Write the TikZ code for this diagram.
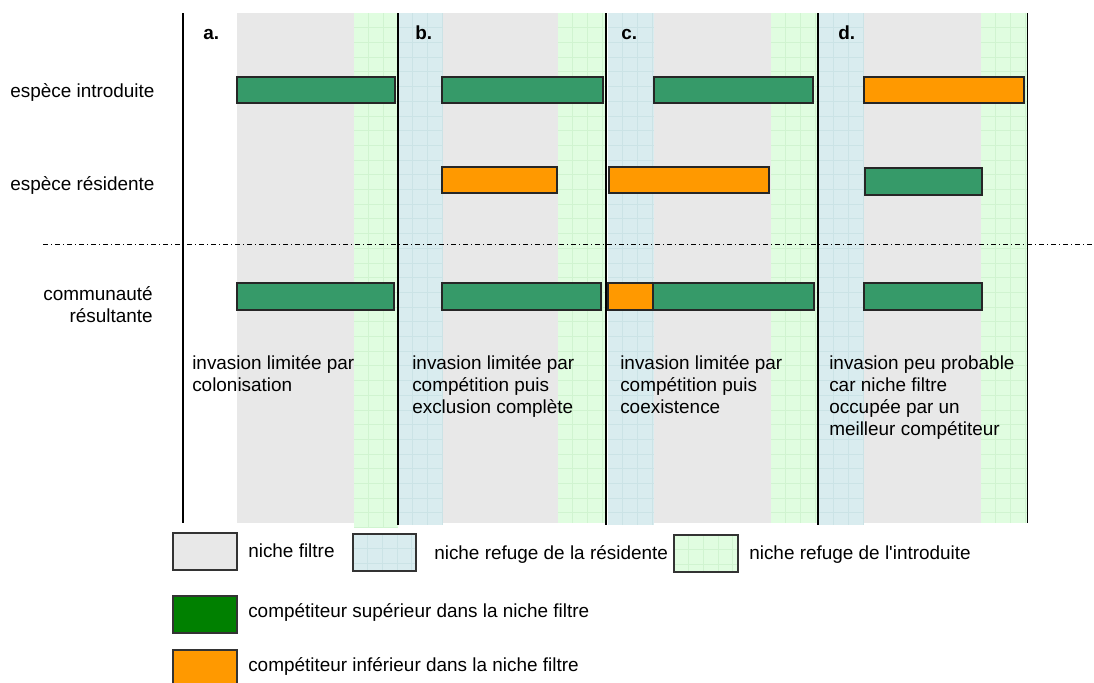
\documentclass[tikz,border=0pt]{standalone}
\usepackage{fontspec}
\setmainfont{Liberation Sans}[Ligatures=TeXOff]
\definecolor{fgray}{HTML}{E8E8E8}
\definecolor{resfill}{HTML}{D9ECEF}
\definecolor{resgrid}{HTML}{CBE3E6}
\definecolor{intfill}{HTML}{E0FDE0}
\definecolor{intgrid}{HTML}{D0F4D0}
\definecolor{bargreen}{RGB}{54,154,105}
\definecolor{barorange}{HTML}{FF9900}
\definecolor{leggreen}{HTML}{008000}
\newcommand\gridbox[6]{%
  \fill[#5] (#1,#2) rectangle (#3,#4);
  \begin{scope}
    \clip (#1,#2) rectangle (#3,#4);
    \foreach \k in {1,...,5} \draw[#6,line width=0.55pt] ({#1+\k*14.7},#2) -- ({#1+\k*14.7},#4);
    \foreach \k in {1,...,35} \draw[#6,line width=0.55pt] (#1,{#2+\k*14.7}) -- (#3,{#2+\k*14.7});
  \end{scope}}
\begin{document}
\begin{tikzpicture}[x=0.75pt,y=-0.75pt,
  txt/.style={font=\fontsize{14.2pt}{16.3pt}\selectfont,inner sep=0pt,align=left},
  lbl/.style={font=\fontsize{14.2pt}{16.3pt}\selectfont\bfseries,inner sep=0pt},
  bar/.style={draw=black!85,line width=1pt},
  frame/.style={draw=black,line width=1.1pt},
  legbox/.style={draw=black!80,line width=1.1pt}]
\useasboundingbox (0,0) rectangle (1094,682);
% filter niches
\fill[fgray] (237,13) rectangle (354,523);
\fill[fgray] (443,13) rectangle (558,523);
\fill[fgray] (654,13) rectangle (771,523);
\fill[fgray] (864,13) rectangle (981,523);
% refuges of resident
\gridbox{398}{13}{443}{525}{resfill}{resgrid}
\gridbox{608}{13}{654}{525}{resfill}{resgrid}
\gridbox{819}{13}{864}{525}{resfill}{resgrid}
% refuges of introduced
\gridbox{354}{13}{398}{528}{intfill}{intgrid}
\gridbox{558}{13}{606}{523}{intfill}{intgrid}
\gridbox{771}{13}{818}{523}{intfill}{intgrid}
\gridbox{981}{13}{1027}{523}{intfill}{intgrid}
% panel lines
\draw[frame] (183,13) -- (183,523);
\draw[frame] (398,13) -- (398,525);
\draw[frame] (606,13) -- (606,525);
\draw[frame] (818,13) -- (818,525);
\draw[frame] (1027.5,13) -- (1027.5,523);
% separator
\draw[black,line width=0.75pt,dash pattern=on 4pt off 2pt on 1pt off 2pt] (43,244) -- (1092,244);
% row 1: introduced species
\draw[bar,fill=bargreen] (237,77) rectangle (395,103);
\draw[bar,fill=bargreen] (442,77) rectangle (603,103);
\draw[bar,fill=bargreen] (654,77) rectangle (813,103);
\draw[bar,fill=barorange] (864,77) rectangle (1024,103);
% row 2: resident species
\draw[bar,fill=barorange] (442,167) rectangle (557,193);
\draw[bar,fill=barorange] (609,167) rectangle (769,193);
\draw[bar,fill=bargreen] (865,168) rectangle (982,195);
% row 3: resulting community
\draw[bar,fill=bargreen] (237,283) rectangle (394,310);
\draw[bar,fill=bargreen] (442,283) rectangle (601,310);
\draw[bar,fill=barorange] (608,283) rectangle (653,310);
\draw[bar,fill=bargreen] (653,283) rectangle (814,310);
\draw[bar,fill=bargreen] (864,283) rectangle (982,310);
% panel letters
\node[lbl,anchor=base west] (la) at (203,39) {a.};
\node[lbl,anchor=base west] (lb) at (415,39) {b.};
\node[lbl,anchor=base west] (lc) at (621,39) {c.};
\node[lbl,anchor=base west] (ld) at (838,39) {d.};
% row labels
\node[txt,anchor=base west] (r1) at (10,97) {espèce introduite};
\node[txt,anchor=base west] (r2) at (10,190) {espèce résidente};
\node[txt,anchor=base east,align=right] (r3) at (153,322.7) {communauté\\résultante};
% panel texts (anchor = baseline of last line)
\node[txt,anchor=base west] (ta) at (192,391.7) {invasion limitée par\\colonisation};
\node[txt,anchor=base west] (tb) at (412,413.4) {invasion limitée par\\compétition puis\\exclusion complète};
\node[txt,anchor=base west] (tc) at (620,413.4) {invasion limitée par\\compétition puis\\coexistence};
\node[txt,anchor=base west] (td) at (829,435.1) {invasion peu probable\\car niche filtre\\occupée par un\\meilleur compétiteur};
% legend
\fill[fgray] (173,533) rectangle (237,570);
\draw[legbox] (173,533) rectangle (237,570);
\node[txt,anchor=base west] (l1) at (248,557) {niche filtre};
\gridbox{353}{534}{416}{571}{resfill}{resgrid}
\draw[legbox] (353,534) rectangle (416,571);
\node[txt,anchor=base west] (l2) at (434,559) {niche refuge de la résidente};
\gridbox{674}{535}{738}{572}{intfill}{intgrid}
\draw[legbox] (674,535) rectangle (738,572);
\node[txt,anchor=base west] (l3) at (749,559) {niche refuge de l'introduite};
\draw[legbox,fill=leggreen] (173,596) rectangle (237,633);
\node[txt,anchor=base west] (l4) at (248,617) {compétiteur supérieur dans la niche filtre};
\draw[legbox,fill=barorange] (173,650) rectangle (237,688);
\node[txt,anchor=base west] (l5) at (248,671) {compétiteur inférieur dans la niche filtre};
\end{tikzpicture}
\end{document}
